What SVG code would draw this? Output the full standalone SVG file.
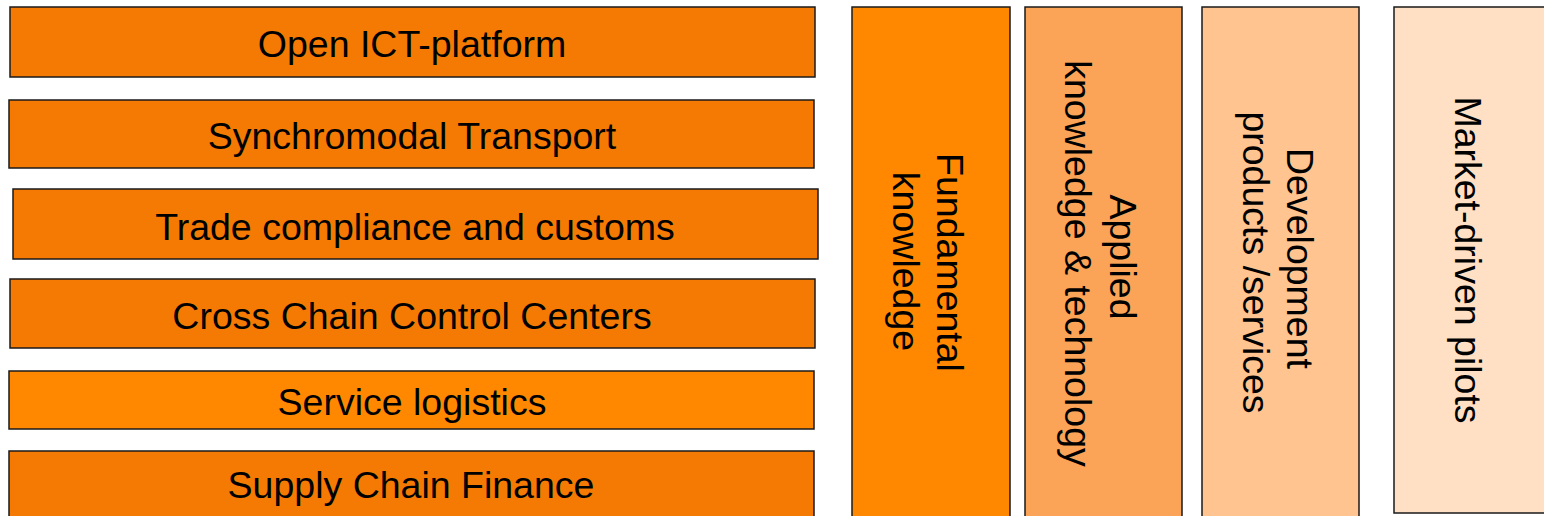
<svg xmlns="http://www.w3.org/2000/svg" width="1544" height="516" viewBox="0 0 1544 516">
<style>
rect{stroke:#1a1a1a;stroke-width:1.5}
.bar{fill:#F47A03}
.bar2{fill:#FF8800}
text{font-family:"Liberation Sans",Arial,sans-serif;font-size:37.5px;fill:#000;text-anchor:middle}
</style>
<rect x="0" y="0" width="1544" height="516" style="fill:#fff;stroke:none"/>
<g id="open-ict"><rect class="bar" x="10" y="7" width="805" height="70"/><text x="412" y="57">Open ICT-platform</text></g>
<g id="synchromodal"><rect class="bar" x="9" y="100" width="805" height="68"/><text x="412" y="149">Synchromodal Transport</text></g>
<g id="trade"><rect class="bar" x="13" y="189" width="805" height="70"/><text x="415" y="240">Trade compliance and customs</text></g>
<g id="cross-chain"><rect class="bar" x="10" y="279" width="805" height="69"/><text x="412" y="329">Cross Chain Control Centers</text></g>
<g id="service-logistics"><rect class="bar2" x="9" y="371" width="805" height="58"/><text x="412" y="415">Service logistics</text></g>
<g id="supply-chain-finance"><rect class="bar" x="9" y="451" width="805" height="80"/><text x="411" y="498">Supply Chain Finance</text></g>
<g id="fundamental"><rect x="852" y="7" width="158" height="520" style="fill:#FF8800"/><text transform="translate(937,262.5) rotate(90)">Fundamental</text><text transform="translate(893,261.5) rotate(90)">knowledge</text></g>
<g id="applied"><rect x="1025" y="7" width="157" height="520" style="fill:#FBA457"/><text transform="translate(1110,257) rotate(90)">Applied</text><text transform="translate(1065,263.5) rotate(90)">knowledge &amp; technology</text></g>
<g id="development"><rect x="1202" y="7" width="157" height="520" style="fill:#FFC48F"/><text transform="translate(1287,258.5) rotate(90)">Development</text><text transform="translate(1243,262.5) rotate(90)">products /services</text></g>
<g id="market-driven"><rect x="1394" y="7" width="170" height="506" style="fill:#FFE0C5"/><text transform="translate(1455,260) rotate(90)">Market-driven pilots</text></g>
<g id="connectors"/>
</svg>
